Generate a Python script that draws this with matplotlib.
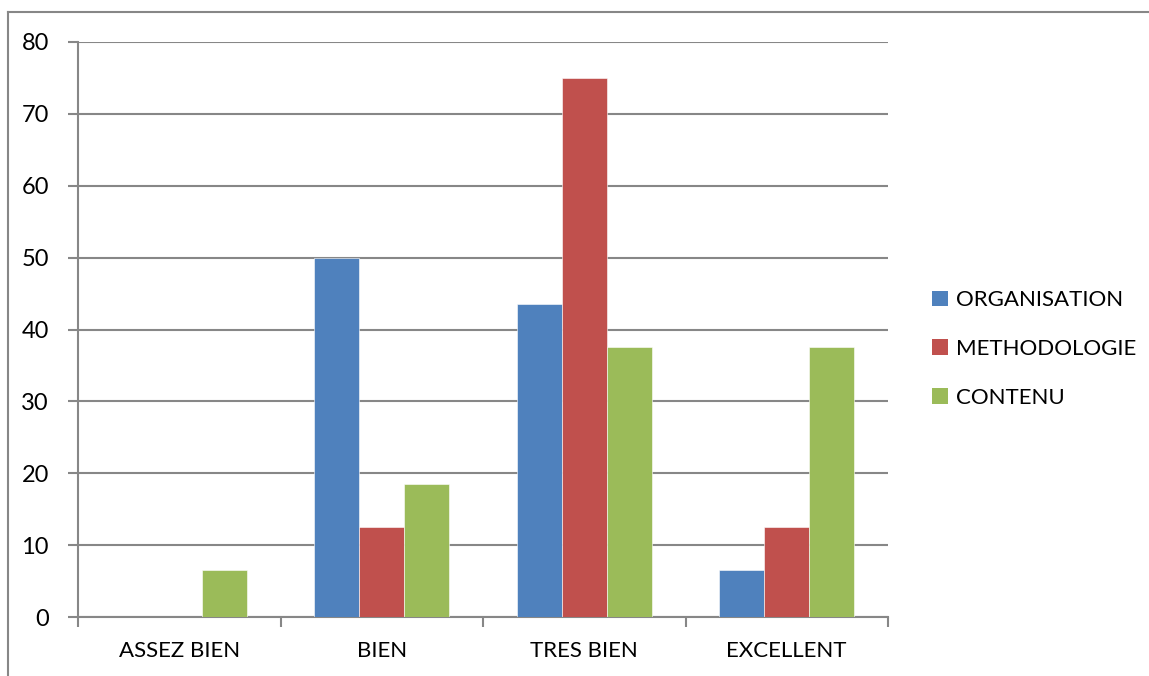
import matplotlib
matplotlib.use("Agg")
import matplotlib.pyplot as plt
from matplotlib.lines import Line2D
from matplotlib.patches import Patch
import numpy as np

categories = ["ASSEZ BIEN", "BIEN", "TRES BIEN", "EXCELLENT"]
series_names = ["ORGANISATION", "METHODOLOGIE", "CONTENU"]
organisation = [0, 50, 43.5, 6.5]
methodologie = [0, 12.5, 75, 12.5]
contenu = [6.5, 18.5, 37.5, 37.5]
y_ticks = [0, 10, 20, 30, 40, 50, 60, 70, 80]

colors = ["#4F81BD", "#C0504D", "#9BBB59"]
grid_color = "#878787"

plt.rcParams['font.family'] = ['Lato', 'DejaVu Sans']

W, H = 1149, 676
fig = plt.figure(figsize=(W / 100, H / 100), dpi=100)
fig.patch.set_facecolor("white")

# outer chart frame (top and left visible)
fig.add_artist(Line2D([8 / W, 8 / W], [0, 1 - 12 / H], transform=fig.transFigure,
                      color=grid_color, lw=1.5))
fig.add_artist(Line2D([8 / W, 1], [1 - 12 / H, 1 - 12 / H], transform=fig.transFigure,
                      color=grid_color, lw=1.5))

left, right, top, bottom = 78 / W, 888 / W, 1 - 42 / H, 1 - 617 / H
ax = fig.add_axes([left, bottom, right - left, top - bottom])

x = np.arange(len(categories))
bw = 0.2222
data = [organisation, methodologie, contenu]
for i, (vals, c, name) in enumerate(zip(data, colors, series_names)):
    ax.bar(x + (i - 1) * bw, vals, width=bw, color=c, label=name, zorder=3,
           edgecolor="white", linewidth=0.4)

fs = 16
ax.set_xlim(-0.5, len(categories) - 0.5)
ax.set_ylim(0, 80)
ax.set_yticks(y_ticks)
ax.set_yticklabels([str(v) for v in y_ticks], fontsize=fs + 1)
ax.yaxis.grid(True, color=grid_color, lw=1.5, zorder=0)
ax.tick_params(axis="y", length=7, width=1.5, color=grid_color, pad=14)

# category boundaries as ticks
ax.set_xticks(np.arange(-0.5, len(categories) + 0.5, 1.0))
ax.set_xticklabels([])
ax.set_xticks(x, minor=True)
ax.set_xticklabels(categories, minor=True, fontsize=fs)
ax.tick_params(axis="x", which="major", length=7, width=1.5, color=grid_color)
ax.tick_params(axis="x", which="minor", length=0, pad=17)

for s in ["top", "right"]:
    ax.spines[s].set_visible(False)
for s in ["left", "bottom"]:
    ax.spines[s].set_color(grid_color)
    ax.spines[s].set_linewidth(1.5)

handles = [Patch(facecolor=c, edgecolor="none") for c in colors]
leg = fig.legend(handles, series_names, loc="center left",
                 bbox_to_anchor=(912 / W, 1 - 349 / H), frameon=False,
                 fontsize=fs, handlelength=0.7, handleheight=0.7,
                 handletextpad=0.4, labelspacing=1.3)

fig.savefig("out.png", dpi=100, facecolor="white")
